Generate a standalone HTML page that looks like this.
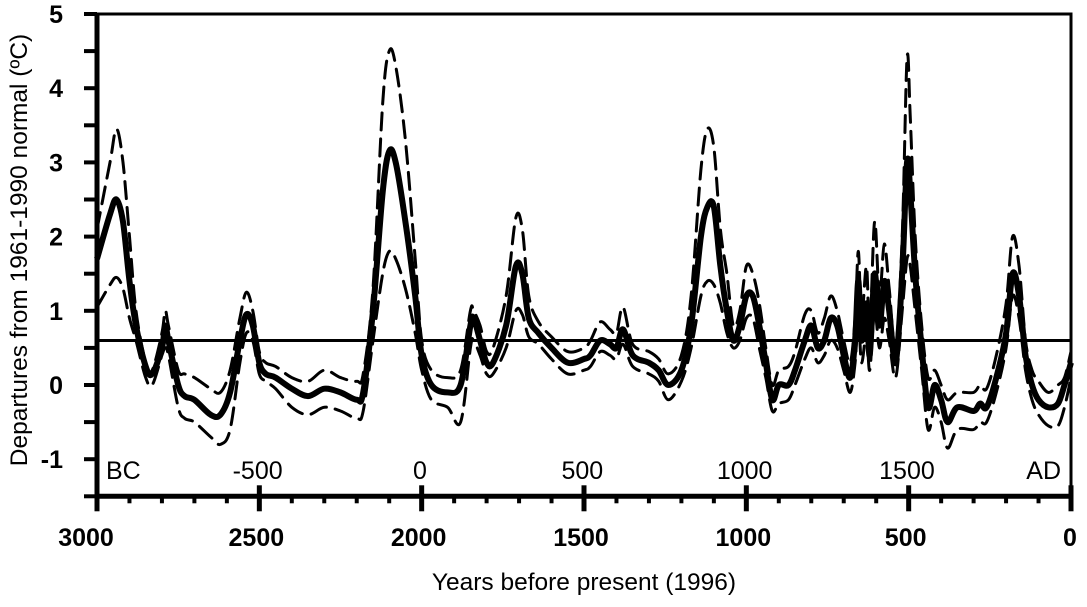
<!DOCTYPE html>
<html><head><meta charset="utf-8"><style>
body{margin:0;background:#fff;}
svg text{font-family:"Liberation Sans",Arial,sans-serif;fill:#000;}
</style></head><body>
<svg id="chart" width="1087" height="602" viewBox="0 0 1087 602" xmlns="http://www.w3.org/2000/svg">
<g id="axes"></g>
<g id="series"></g>
<text transform="translate(27,250) rotate(-90)" text-anchor="middle" font-size="24.5">Departures from 1961-1990 normal (ºC)</text>
<text x="584" y="590" text-anchor="middle" font-size="24.5">Years before present (1996)</text>
</svg>
<script>
const years=[3000,2960,2940,2920,2900,2880,2850,2830,2800,2790,2780,2750,2730,2700,2650,2620,2590,2560,2540,2520,2500,2480,2450,2400,2350,2300,2250,2200,2180,2150,2120,2100,2080,2050,2020,2000,1970,1920,1880,1850,1840,1820,1800,1780,1740,1710,1690,1670,1640,1600,1550,1500,1480,1450,1420,1400,1380,1350,1300,1270,1240,1200,1170,1140,1120,1100,1080,1060,1040,1020,1000,980,960,940,920,900,870,850,820,800,780,760,740,720,700,680,665,655,645,630,620,605,590,575,560,540,520,505,495,480,460,440,420,400,380,350,300,280,260,230,200,180,160,140,120,100,70,40,20,0];
const meanVals=[1.7,2.3,2.5,2.2,1.4,0.8,0.25,0.15,0.5,0.8,0.6,0.0,-0.15,-0.2,-0.4,-0.4,-0.1,0.6,0.95,0.8,0.3,0.15,0.1,-0.05,-0.15,-0.05,-0.1,-0.2,-0.1,1.0,2.6,3.15,3.0,2.2,1.2,0.4,0.0,-0.1,0.0,0.8,0.9,0.6,0.3,0.3,0.8,1.6,1.5,0.9,0.7,0.5,0.3,0.35,0.4,0.6,0.55,0.5,0.75,0.4,0.3,0.2,0.0,0.2,0.8,2.0,2.4,2.4,1.6,1.0,0.6,0.8,1.2,1.2,0.8,0.3,-0.2,0.0,0.0,0.2,0.6,0.8,0.5,0.6,0.9,0.8,0.4,0.1,0.6,1.4,0.6,1.1,0.4,1.5,0.8,1.4,1.0,0.3,1.5,3.0,2.6,1.5,0.5,-0.3,0.0,-0.2,-0.5,-0.3,-0.35,-0.25,-0.3,0.1,0.7,1.5,1.2,0.4,0.0,-0.2,-0.3,-0.25,0.0,0.3];
const upperVals=[2.1,3.0,3.45,3.0,2.0,1.0,0.3,0.2,0.7,1.0,0.8,0.2,0.15,0.1,-0.05,-0.1,0.2,0.9,1.25,1.0,0.45,0.3,0.25,0.1,0.05,0.2,0.1,0.05,0.15,1.3,3.8,4.5,4.3,3.3,1.7,0.6,0.2,0.1,0.2,1.0,1.0,0.8,0.45,0.5,1.2,2.25,2.1,1.2,0.85,0.65,0.45,0.5,0.6,0.85,0.75,0.7,1.05,0.55,0.45,0.35,0.15,0.4,1.2,2.9,3.45,3.2,2.1,1.5,0.8,1.0,1.6,1.5,1.1,0.5,0.0,0.2,0.25,0.45,0.95,1.0,0.7,0.9,1.2,1.0,0.6,0.3,0.9,1.8,0.9,1.6,0.7,2.2,1.2,1.9,1.3,0.5,2.0,4.4,3.6,2.0,0.8,0.1,0.2,0.0,-0.2,-0.1,-0.1,0.0,-0.05,0.4,1.1,2.0,1.6,0.6,0.2,0.05,-0.1,0.0,0.1,0.45];
const lowerVals=[1.05,1.35,1.45,1.3,0.9,0.6,0.1,0.0,0.4,0.5,0.4,-0.3,-0.45,-0.5,-0.7,-0.8,-0.6,0.3,0.7,0.6,0.15,0.05,-0.05,-0.3,-0.4,-0.3,-0.35,-0.45,-0.35,0.6,1.5,1.8,1.7,1.3,0.7,0.2,-0.2,-0.3,-0.5,0.5,0.6,0.4,0.15,0.15,0.5,1.0,0.95,0.65,0.55,0.35,0.15,0.2,0.25,0.45,0.4,0.35,0.55,0.25,0.15,0.05,-0.2,0.05,0.5,1.2,1.4,1.35,1.1,0.7,0.5,0.6,0.9,0.9,0.5,0.1,-0.35,-0.25,-0.2,0.0,0.35,0.5,0.3,0.4,0.6,0.5,0.2,-0.1,0.3,0.9,0.3,0.7,0.2,1.0,0.5,0.9,0.6,0.1,1.0,1.7,1.6,1.0,0.2,-0.6,-0.3,-0.5,-0.85,-0.6,-0.6,-0.5,-0.5,-0.1,0.5,1.2,0.9,0.2,-0.2,-0.4,-0.55,-0.55,-0.3,0.1];
const referenceLevel=0.6;
const yTicks=[-1,0,1,2,3,4,5];
const xTicks=[3000,2500,2000,1500,1000,500,0];
const adLabels=[-500,0,500,1000,1500];

const X0=97,X1=1071,Y0=385,PU=74.2;
const xs=t=>X0+(3000-t)*(X1-X0)/3000;
const ys=v=>Y0-v*PU;
const NS="http://www.w3.org/2000/svg";
function mk(tag,attrs,parent){const e=document.createElementNS(NS,tag);for(const k in attrs)e.setAttribute(k,attrs[k]);parent.appendChild(e);return e;}
const ax=document.getElementById('axes'),sr=document.getElementById('series');
const yTop=ys(5),yBot=ys(-1.5);

const fr=mk('rect',{x:X0,y:yTop,width:X1-X0,height:yBot-yTop,fill:'none',stroke:'#000','stroke-width':3},ax);


const ls=mk('line',{x1:X0,y1:yTop,x2:X0,y2:yBot+4,stroke:'#000','stroke-width':5},ax);


const bs=mk('line',{x1:X0,y1:yBot,x2:X1,y2:yBot,stroke:'#000','stroke-width':5},ax);


for(let v=-1.5;v<=5.001;v+=0.5){const t=mk('line',{x1:X0-13,y1:ys(v),x2:X0,y2:ys(v),stroke:'#000','stroke-width':4},ax);

}
yTicks.forEach(v=>{const t=mk('text',{x:63,y:ys(v)+9,'text-anchor':'end','font-size':25,'font-weight':'bold'},ax);t.textContent=v;

});
for(let t=0;t<=3000;t+=100){const major=t%500===0;const l=mk('line',{x1:xs(t),y1:major?yBot-11:yBot,x2:xs(t),y2:yBot+(major?15:7),stroke:'#000','stroke-width':major?5:4},ax);

}
xTicks.forEach(v=>{const cx=v===3000?86:(v===0?1070:xs(v)-3);const t=mk('text',{x:cx,y:546,'text-anchor':'middle','font-size':25,'font-weight':'bold'},ax);t.textContent=v;

});
adLabels.forEach(v=>{const t=mk('text',{x:xs(1996-v)-3,y:479,'text-anchor':'middle','font-size':25},ax);t.textContent=v;

});
const bc=mk('text',{x:106,y:479,'font-size':25},ax);bc.textContent='BC';


const ad=mk('text',{x:X1-10,y:479,'font-size':25,'text-anchor':'end'},ax);ad.textContent='AD';


const rl=mk('line',{x1:X0,y1:ys(referenceLevel),x2:X1,y2:ys(referenceLevel),stroke:'#000','stroke-width':3},sr);



function pathFor(vals){const p=years.map((t,i)=>[xs(t),ys(vals[i])]);let d='M'+p[0][0]+','+p[0][1];
for(let i=0;i<p.length-1;i++){const a=p[Math.max(0,i-1)],b=p[i],c=p[i+1],e=p[Math.min(p.length-1,i+2)];
const c1=[b[0]+(c[0]-a[0])/6,b[1]+(c[1]-a[1])/6],c2=[c[0]-(e[0]-b[0])/6,c[1]-(e[1]-b[1])/6];
d+=` C${c1[0].toFixed(1)},${c1[1].toFixed(1)} ${c2[0].toFixed(1)},${c2[1].toFixed(1)} ${c[0].toFixed(1)},${c[1].toFixed(1)}`;}return d;}
const up=mk('path',{d:pathFor(upperVals),fill:'none',stroke:'#000','stroke-width':3,'stroke-dasharray':'17 9','stroke-linecap':'round'},sr);


const lo=mk('path',{d:pathFor(lowerVals),fill:'none',stroke:'#000','stroke-width':3,'stroke-dasharray':'17 9','stroke-linecap':'round'},sr);


const mn=mk('path',{d:pathFor(meanVals),fill:'none',stroke:'#000','stroke-width':6,'stroke-linejoin':'round'},sr);


</script>
</body></html>
